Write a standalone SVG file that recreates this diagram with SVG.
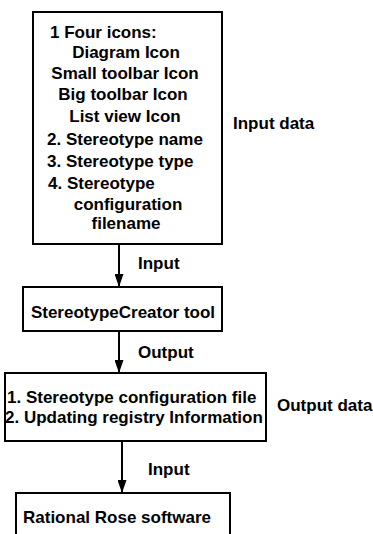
<svg xmlns="http://www.w3.org/2000/svg" width="373" height="534" viewBox="0 0 373 534">
<style>
.box{fill:#fff;stroke:#000;stroke-width:2}
.t{font-family:"Liberation Sans",Arial,sans-serif;font-size:17px;font-weight:bold;fill:#000}
.m{text-anchor:middle}
.c{stroke:#000;stroke-width:2;fill:none}
</style>
<defs>
<marker id="ah" markerWidth="9" markerHeight="12" refX="9" refY="4.5" orient="auto" markerUnits="userSpaceOnUse" viewBox="0 0 9 12">
<path d="M0,0 L9,4.5 L0,9 Z" fill="#000"/>
</marker>
<marker id="ah2" markerWidth="13" markerHeight="9" refX="13" refY="4.5" orient="auto" markerUnits="userSpaceOnUse" viewBox="0 0 13 9">
<path d="M0,0 L13,4.5 L0,9 Z" fill="#000"/>
</marker>
</defs>
<rect width="373" height="534" fill="#fff"/>
<g id="connectors">
<line class="c" x1="119" y1="244" x2="119" y2="287" marker-end="url(#ah2)"/>
<line class="c" x1="119" y1="331" x2="119" y2="373" marker-end="url(#ah2)"/>
<line class="c" x1="122" y1="441" x2="122" y2="493" marker-end="url(#ah2)"/>
<text class="t" x="138" y="269">Input</text>
<text class="t" x="138" y="358">Output</text>
<text class="t" x="148" y="475">Input</text>
</g>
<g id="input-data">
<rect class="box" x="33" y="12" width="189" height="232"/>
<text class="t" x="50" y="38">1  Four icons:</text>
<text class="t m" x="126" y="58">Diagram Icon</text>
<text class="t m" x="125" y="79">Small toolbar Icon</text>
<text class="t m" x="123" y="100">Big toolbar Icon</text>
<text class="t m" x="125" y="122">List view Icon</text>
<text class="t" x="47" y="145">2. Stereotype name</text>
<text class="t" x="47" y="167">3. Stereotype type</text>
<text class="t" x="48" y="189">4. Stereotype</text>
<text class="t m" x="128" y="210">configuration</text>
<text class="t m" x="126" y="229">filename</text>
</g>
<g id="input-data-label">
<text class="t" x="233" y="129">Input data</text>
</g>
<g id="creator-tool">
<rect class="box" x="23" y="287" width="199" height="44"/>
<text class="t m" x="123" y="318">StereotypeCreator tool</text>
</g>
<g id="output-data">
<rect class="box" x="5" y="373" width="261" height="68"/>
<text class="t" x="7" y="403">1. Stereotype configuration file</text>
<text class="t" x="5" y="423">2. Updating registry Information</text>
</g>
<g id="output-data-label">
<text class="t" x="277" y="411">Output data</text>
</g>
<g id="rational-rose">
<rect class="box" x="16" y="493" width="214" height="60"/>
<text class="t m" x="117" y="523">Rational Rose software</text>
</g>
</svg>
